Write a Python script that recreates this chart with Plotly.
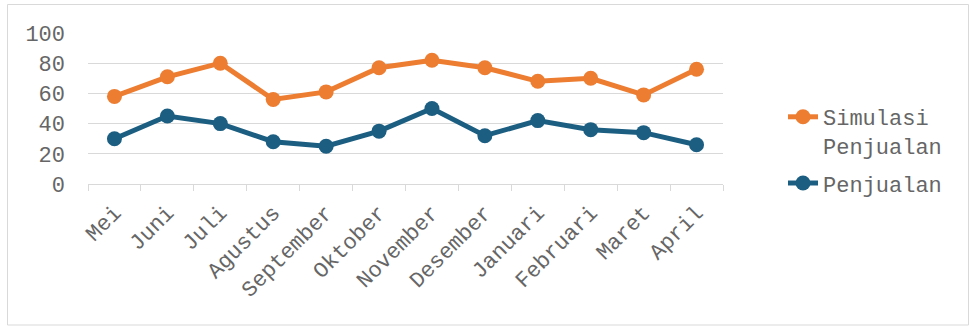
import plotly.graph_objects as go

months = ["Mei", "Juni", "Juli", "Agustus", "September", "Oktober", "November",
          "Desember", "Januari", "Februari", "Maret", "April"]
simulasi = [58, 71, 80, 56, 61, 77, 82, 77, 68, 70, 59, 76]
penjualan = [30, 45, 40, 28, 25, 35, 50, 32, 42, 36, 34, 26]
y_ticks = [0, 20, 40, 60, 80, 100]

FONT = "Courier New, Liberation Mono, monospace"
GREY = "#666666"
ORANGE = "#ED7D31"
BLUE = "#1B5E82"
FS = 22

fig = go.Figure()
fig.add_trace(go.Scatter(x=months, y=simulasi, name="Simulasi<br>Penjualan",
                         legendgroup="a", mode="lines+markers",
                         line=dict(color=ORANGE, width=5),
                         marker=dict(color=ORANGE, size=15)))
fig.add_trace(go.Scatter(x=months, y=penjualan, name="Penjualan",
                         legendgroup="b", mode="lines+markers",
                         line=dict(color=BLUE, width=5),
                         marker=dict(color=BLUE, size=15)))

W, H = 969, 327
ml, mr, mt, mb = 88, 246, 33, 143
pw, ph = W - ml - mr, H - mt - mb

fig.update_layout(
    width=W, height=H,
    margin=dict(l=ml, r=mr, t=mt, b=mb, pad=0),
    paper_bgcolor="white", plot_bgcolor="white",
    font=dict(family=FONT, color=GREY, size=FS),
    showlegend=True,
    legend=dict(x=(783 - ml) / pw, y=(184 - 96) / ph, xanchor="left", yanchor="top",
                valign="top", font=dict(size=FS, family=FONT, color=GREY),
                tracegroupgap=6, bgcolor="rgba(0,0,0,0)"),
    xaxis=dict(type="category", tickangle=-45, showgrid=False,
               showline=True, linecolor="#D9D9D9", linewidth=1,
               ticks="outside", tickson="boundaries", ticklen=6, tickcolor="#D9D9D9",
               ticklabelstandoff=6,
               tickfont=dict(size=FS, family=FONT, color=GREY), range=[-0.5, 11.5]),
    yaxis=dict(range=[0, 100], tickvals=y_ticks, showgrid=True, gridcolor="#D9D9D9",
               gridwidth=1, zeroline=False, showline=False,
               ticklabelstandoff=22,
               tickfont=dict(size=FS, family=FONT, color=GREY)),
    shapes=[dict(type="rect", xref="paper", yref="paper",
                 x0=(7.5 - ml) / pw, x1=(968.5 - ml) / pw,
                 y0=(H - mb - 325) / ph, y1=(H - mb - 4.5) / ph,
                 line=dict(color="#D9D9D9", width=1), fillcolor="rgba(0,0,0,0)",
                 layer="below")],
)

fig.write_html("out.html")
